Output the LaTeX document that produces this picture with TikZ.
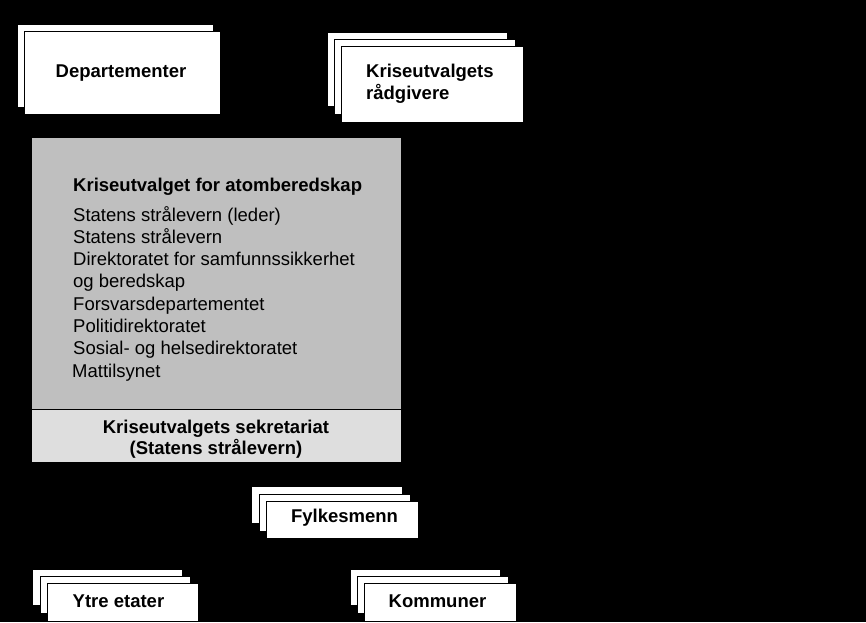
\documentclass[tikz,border=0pt]{standalone}
\usepackage{fontspec}
\setmainfont{Liberation Sans}
\definecolor{upgray}{HTML}{BFBFBF}
\definecolor{lowgray}{HTML}{DEDEDE}
\begin{document}
\begin{tikzpicture}[x=1pt,y=-1pt,
  card/.style={draw=black,fill=white,line width=0.8pt},
  lbl/.style={inner sep=0pt,font=\fontsize{18.5}{22}\selectfont},
  blbl/.style={lbl,font=\fontsize{18.5}{22}\selectfont\bfseries}]
\fill[black] (0,0) rectangle (866,622);
\useasboundingbox (0,0) rectangle (866,622);
% Departementer
\draw[card] (17,24) rectangle (213,107);
\draw[card] (24,31) rectangle (220,114);
\node[blbl,anchor=base] (dep) at (121,77) {Departementer};
% Radgivere
\draw[card] (327,32) rectangle (507,106);
\draw[card] (334,39) rectangle (515,114);
\draw[card] (341,46) rectangle (523,122);
\node[blbl,anchor=base west] (rad1) at (366,77) {Kriseutvalgets};
\node[blbl,anchor=base west] (rad2) at (366,99) {rådgivere};
% Gray box
\fill[upgray] (32,138) rectangle (401,409);
\fill[lowgray] (32,409) rectangle (401,462);
\draw[black,line width=0.8pt] (32,409) -- (401,409);
\node[blbl,anchor=base west] (title) at (73,191) {Kriseutvalget for atomberedskap};
\node[lbl,anchor=base west] (l1) at (73,221) {Statens strålevern (leder)};
\node[lbl,anchor=base west] (l2) at (73,243.3) {Statens strålevern};
\node[lbl,anchor=base west] (l3) at (73,265.6) {Direktoratet for samfunnssikkerhet};
\node[lbl,anchor=base west] (l4) at (73,287.9) {og beredskap};
\node[lbl,anchor=base west] (l5) at (73,310.2) {Forsvarsdepartementet};
\node[lbl,anchor=base west] (l6) at (73,332.5) {Politidirektoratet};
\node[lbl,anchor=base west] (l7) at (73,354.8) {Sosial- og helsedirektoratet};
\node[lbl,anchor=base west] (l8) at (72,377) {Mattilsynet};
\node[blbl,anchor=base] (sek1) at (216,433) {Kriseutvalgets sekretariat};
\node[blbl,anchor=base] (sek2) at (216,454) {(Statens strålevern)};
% Fylkesmenn
\draw[card] (251,486) rectangle (402,523);
\draw[card] (259,494) rectangle (410,531);
\draw[card] (266,501) rectangle (418,538);
\node[blbl,anchor=base] (fyl) at (344.5,522) {Fylkesmenn};
% Ytre etater
\draw[card] (32,569) rectangle (182,605);
\draw[card] (40,576) rectangle (190,613);
\draw[card] (47,583) rectangle (198,621);
\node[blbl,anchor=base] (ytre) at (118.5,607) {Ytre etater};
% Kommuner
\draw[card] (350,569) rectangle (500,605);
\draw[card] (357,576) rectangle (508,613);
\draw[card] (364,583) rectangle (516,621);
\node[blbl,anchor=base] (kom) at (437.5,607) {Kommuner};
\end{tikzpicture}
\end{document}
